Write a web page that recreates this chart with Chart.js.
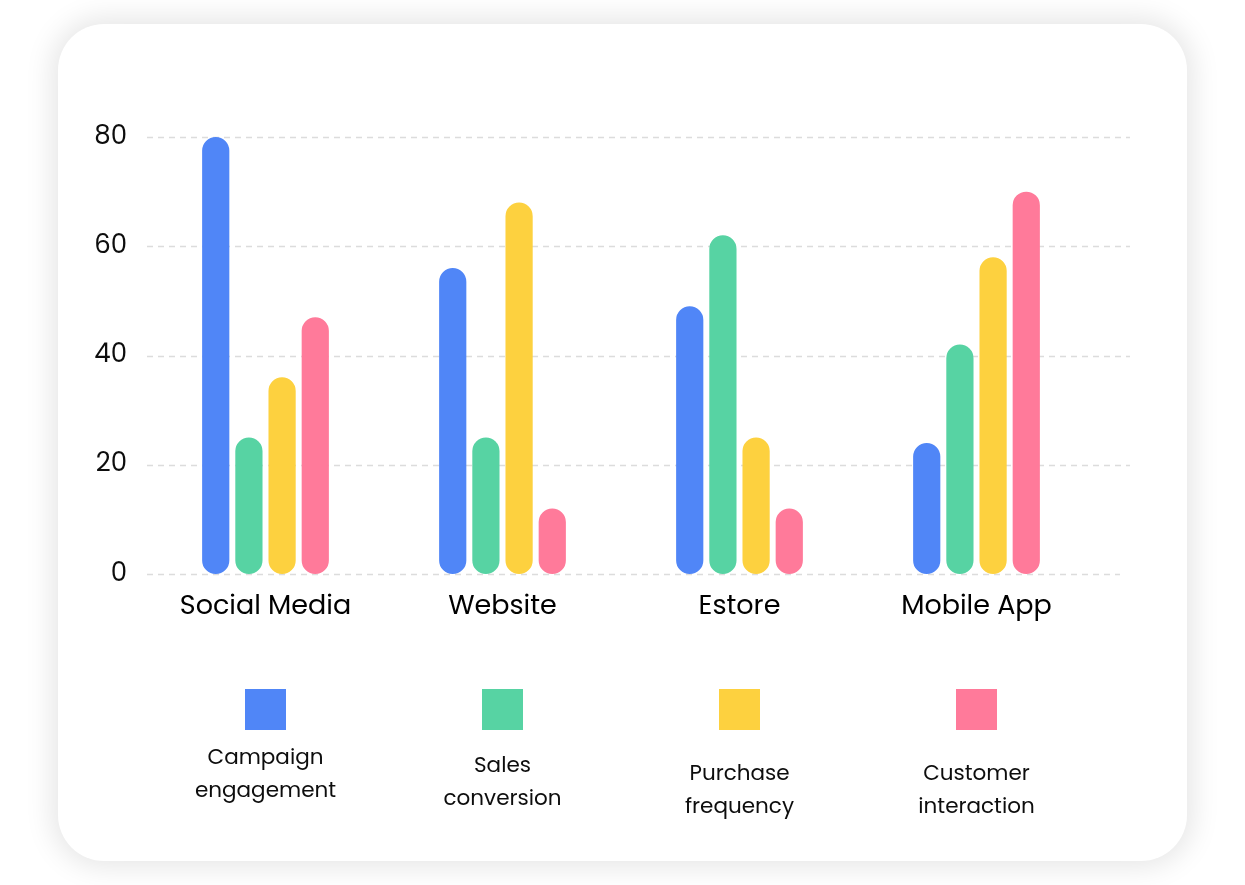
<!DOCTYPE html>
<html>
<head>
<meta charset="utf-8">
<script src="https://cdn.jsdelivr.net/npm/chart.js@4.4.1/dist/chart.umd.min.js"></script>
<style>
  html, body { margin: 0; padding: 0; background: #fff; }
  body { width: 1245px; height: 885px; position: relative; overflow: hidden; }
  .card {
    position: absolute; left: 58px; top: 24px; width: 1129px; height: 837px;
    background: #fff; border-radius: 46px;
    box-shadow: 0 0 28px 6px rgba(0, 0, 0, 0.10);
  }
  .card canvas { position: absolute; left: 0; top: 0; }
</style>
</head>
<body>
<div class="card"><canvas id="chart" width="1129" height="837"></canvas></div>
<script>
const categories = ['Social Media', 'Website', 'Estore', 'Mobile App'];
const seriesNames = [['Campaign', 'engagement'], ['Sales', 'conversion'], ['Purchase', 'frequency'], ['Customer', 'interaction']];
const campaignEngagement = [80, 56, 49, 24];
const salesConversion = [25, 25, 62, 42];
const purchaseFrequency = [36, 68, 25, 58];
const customerInteraction = [47, 12, 12, 70];
const yTicks = [0, 20, 40, 60, 80];

const colors = ['#5086f7', '#57d3a3', '#fdd13f', '#ff7a9a'];
const fontFamily = 'Poppins, Inter, sans-serif';
const legendTextShift = [-14, -6, 2, 2];

// dashed grid lines, a bit longer than the plot area
const gridPlugin = {
  id: 'dashGrid',
  beforeDatasetsDraw(chart) {
    const { ctx, chartArea, scales } = chart;
    ctx.save();
    ctx.strokeStyle = '#dcdcdc';
    ctx.lineWidth = 1.5;
    ctx.setLineDash([6, 5]);
    scales.y.ticks.forEach(t => {
      const y = Math.round(scales.y.getPixelForValue(t.value)) + 0.5;
      const right = t.value === 0 ? 1062 : 1072;
      ctx.beginPath();
      ctx.moveTo(chartArea.left, y);
      ctx.lineTo(right, y);
      ctx.stroke();
    });
    ctx.restore();
  }
};

// legend under the chart, one column per category slot
const legendPlugin = {
  id: 'blockLegend',
  afterDraw(chart) {
    const { ctx, scales } = chart;
    ctx.save();
    ctx.textAlign = 'center';
    ctx.textBaseline = 'middle';
    ctx.font = '21.5px ' + fontFamily;
    chart.data.datasets.forEach((ds, i) => {
      const cx = scales.x.getPixelForValue(i);
      ctx.fillStyle = ds.backgroundColor;
      ctx.fillRect(cx - 20.5, 665, 41, 41);
      ctx.fillStyle = '#0d0d0d';
      const lines = seriesNames[i];
      lines.forEach((line, j) => {
        ctx.fillText(line, cx, 749 + legendTextShift[i] + j * 33);
      });
    });
    ctx.restore();
  }
};

const seriesValues = [campaignEngagement, salesConversion, purchaseFrequency, customerInteraction];

new Chart(document.getElementById('chart'), {
  type: 'bar',
  data: {
    labels: categories,
    datasets: seriesValues.map((vals, i) => ({
      label: seriesNames[i].join(' '),
      data: vals,
      backgroundColor: colors[i],
      borderRadius: 14,
      borderSkipped: false,
      categoryPercentage: 0.56,
      barPercentage: 0.82
    }))
  },
  options: {
    responsive: false,
    animation: false,
    layout: { padding: { top: 113, right: 92, bottom: 217, left: 0 } },
    plugins: { legend: { display: false }, tooltip: { enabled: false } },
    scales: {
      x: {
        grid: { display: false },
        border: { display: false },
        ticks: { color: '#000', padding: 9, font: { family: fontFamily, size: 27 } },
        afterFit(scale) { scale.height = 70; }
      },
      y: {
        min: 0,
        max: 80,
        grid: { display: false, drawTicks: false },
        border: { display: false },
        afterBuildTicks(scale) { scale.ticks = yTicks.map(v => ({ value: v })); },
        ticks: { color: '#0d0d0d', padding: 20, font: { family: fontFamily, size: 26 } },
        afterFit(scale) { scale.width = 89; }
      }
    }
  },
  plugins: [gridPlugin, legendPlugin]
});
</script>
</body>
</html>
